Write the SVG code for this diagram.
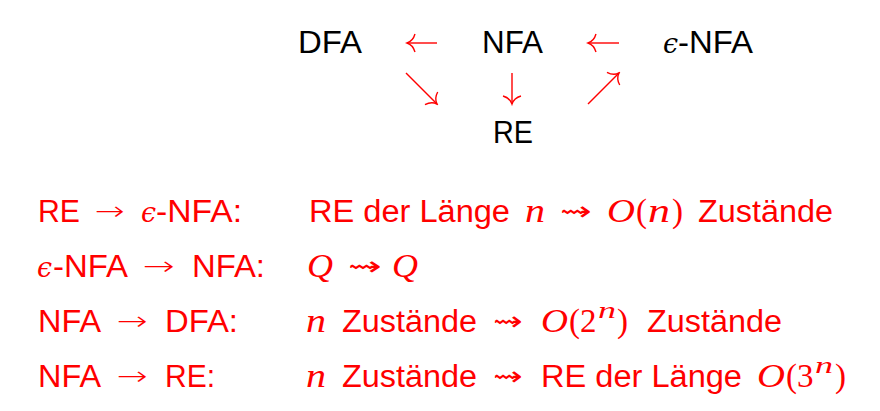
<svg xmlns="http://www.w3.org/2000/svg" width="880" height="411" viewBox="0 0 880 411">
<defs>
<style>
.n{font-family:"Liberation Sans",Arial,sans-serif;font-size:31px;fill:#000}
.t{font-family:"Liberation Sans",Arial,sans-serif;font-size:31px;fill:#ff0000}
.m{font-family:"Liberation Serif","Times New Roman",serif;font-size:33px;font-style:italic;fill:#ff0000}
.r{font-family:"Liberation Serif","Times New Roman",serif;font-size:33px;fill:#ff0000}
.sup{font-family:"Liberation Serif","Times New Roman",serif;font-size:24px;font-style:italic;fill:#ff0000}
.eps{font-family:"DejaVu Serif",serif;font-size:27px;font-style:italic}
.ar{font-family:"DejaVu Sans",sans-serif;font-size:26px;font-weight:200;fill:#ff0000}
.c{stroke:#ff0000;stroke-width:1.4;fill:none}
</style>
<marker id="h" markerUnits="userSpaceOnUse" viewBox="-10 -10 12 20" refX="0" refY="0" markerWidth="12" markerHeight="20" orient="auto">
<path d="M-8,-9 Q-6,-2 0,0 Q-6,2 -8,9" stroke="#ff0000" stroke-width="1.4" fill="none"/>
</marker>
</defs>
<g id="node-dfa"><text class="n" x="298" y="53" textLength="64" lengthAdjust="spacingAndGlyphs">DFA</text></g>
<g id="node-nfa"><text class="n" x="482" y="53" textLength="61" lengthAdjust="spacingAndGlyphs">NFA</text></g>
<g id="node-enfa"><text class="n" x="663" y="53"><tspan class="eps" fill="#000">ϵ</tspan><tspan x="678" textLength="75" lengthAdjust="spacingAndGlyphs">-NFA</tspan></text></g>
<g id="node-re"><text class="n" x="493" y="143" textLength="40" lengthAdjust="spacingAndGlyphs">RE</text></g>
<g id="connectors">
<path class="c" d="M437,43 L407,43" marker-end="url(#h)"/>
<path class="c" d="M619,43 L588,43" marker-end="url(#h)"/>
<path class="c" d="M406,73 L437,104" marker-end="url(#h)"/>
<path class="c" d="M512,73 L512,104" marker-end="url(#h)"/>
<path class="c" d="M588,104 L619,73" marker-end="url(#h)"/>
</g>
<g id="line1">
<text class="t" x="38" y="222" textLength="42" lengthAdjust="spacingAndGlyphs">RE</text>
<text class="ar" x="95" y="220" textLength="30" lengthAdjust="spacingAndGlyphs">→</text>
<text class="eps" x="141" y="222" fill="#ff0000">ϵ</text>
<text class="t" x="156" y="222" textLength="86" lengthAdjust="spacingAndGlyphs">-NFA:</text>
<text class="t" x="309" y="222" textLength="201" lengthAdjust="spacingAndGlyphs">RE der Länge</text>
<text class="m" x="525" y="222" textLength="20" lengthAdjust="spacingAndGlyphs">n</text>
<text class="ar" x="560" y="220" textLength="32" lengthAdjust="spacingAndGlyphs">⇝</text>
<text class="m" x="607" y="222" textLength="28" lengthAdjust="spacingAndGlyphs">O</text>
<text class="r" x="636" y="222">(</text>
<text class="m" x="648" y="222" textLength="22" lengthAdjust="spacingAndGlyphs">n</text>
<text class="r" x="672" y="222">)</text>
<text class="t" x="698" y="222" textLength="135" lengthAdjust="spacingAndGlyphs">Zustände</text>
</g>
<g id="line2">
<text class="eps" x="37" y="277" fill="#ff0000">ϵ</text>
<text class="t" x="53" y="277" textLength="75" lengthAdjust="spacingAndGlyphs">-NFA</text>
<text class="ar" x="143" y="275" textLength="32" lengthAdjust="spacingAndGlyphs">→</text>
<text class="t" x="192" y="277" textLength="73" lengthAdjust="spacingAndGlyphs">NFA:</text>
<text class="m" x="307" y="277" textLength="26" lengthAdjust="spacingAndGlyphs">Q</text>
<text class="ar" x="348" y="275" textLength="34" lengthAdjust="spacingAndGlyphs">⇝</text>
<text class="m" x="392" y="277" textLength="26" lengthAdjust="spacingAndGlyphs">Q</text>
</g>
<g id="line3">
<text class="t" x="38" y="332" textLength="63" lengthAdjust="spacingAndGlyphs">NFA</text>
<text class="ar" x="117" y="330" textLength="31" lengthAdjust="spacingAndGlyphs">→</text>
<text class="t" x="165" y="332" textLength="73" lengthAdjust="spacingAndGlyphs">DFA:</text>
<text class="m" x="306" y="332" textLength="20" lengthAdjust="spacingAndGlyphs">n</text>
<text class="t" x="342" y="332" textLength="135" lengthAdjust="spacingAndGlyphs">Zustände</text>
<text class="ar" x="493" y="330" textLength="30" lengthAdjust="spacingAndGlyphs">⇝</text>
<text class="m" x="541" y="332" textLength="27" lengthAdjust="spacingAndGlyphs">O</text>
<text class="r" x="569" y="332">(</text>
<text class="r" x="580" y="332">2</text>
<text class="sup" x="598" y="318" textLength="18" lengthAdjust="spacingAndGlyphs">n</text>
<text class="r" x="617" y="332">)</text>
<text class="t" x="647" y="332" textLength="135" lengthAdjust="spacingAndGlyphs">Zustände</text>
</g>
<g id="line4">
<text class="t" x="38" y="387" textLength="63" lengthAdjust="spacingAndGlyphs">NFA</text>
<text class="ar" x="117" y="385" textLength="31" lengthAdjust="spacingAndGlyphs">→</text>
<text class="t" x="165" y="387" textLength="50" lengthAdjust="spacingAndGlyphs">RE:</text>
<text class="m" x="306" y="387" textLength="20" lengthAdjust="spacingAndGlyphs">n</text>
<text class="t" x="342" y="387" textLength="135" lengthAdjust="spacingAndGlyphs">Zustände</text>
<text class="ar" x="493" y="385" textLength="30" lengthAdjust="spacingAndGlyphs">⇝</text>
<text class="t" x="541" y="387" textLength="201" lengthAdjust="spacingAndGlyphs">RE der Länge</text>
<text class="m" x="757" y="387" textLength="28" lengthAdjust="spacingAndGlyphs">O</text>
<text class="r" x="786" y="387">(</text>
<text class="r" x="797" y="387">3</text>
<text class="sup" x="815" y="373" textLength="18" lengthAdjust="spacingAndGlyphs">n</text>
<text class="r" x="835" y="387">)</text>
</g>
</svg>
